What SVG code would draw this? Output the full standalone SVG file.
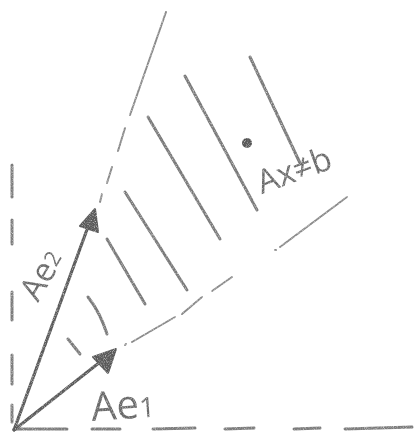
<svg xmlns="http://www.w3.org/2000/svg" width="414" height="434" viewBox="0 0 414 434">
<defs>
<filter id="pencil" x="-5%" y="-5%" width="110%" height="110%">
<feTurbulence type="fractalNoise" baseFrequency="1.1" numOctaves="2" seed="3" result="n"/>
<feColorMatrix in="n" type="matrix" values="0 0 0 0 0  0 0 0 0 0  0 0 0 0 0  0 0 0 -1.6 1.75" result="m"/>
<feComposite in="SourceGraphic" in2="m" operator="in"/>
</filter>
<style>
.ax{stroke:#7c7c7c;stroke-width:3;stroke-linecap:round;fill:none}
.bd{stroke:#8a8a8a;stroke-width:2;stroke-linecap:round;fill:none}
.h{stroke:#7a7a7a;stroke-width:3;stroke-linecap:round;fill:none}
.v{stroke:#5a5a5a;stroke-width:3.2;stroke-linecap:round;fill:none}
.hd{fill:#5a5a5a;stroke:#5a5a5a;stroke-width:2;stroke-linejoin:round}
.t{font-family:"Open Sans","Liberation Sans",sans-serif;font-weight:400;fill:#6a6a6a}
</style>
</defs>
<rect width="414" height="434" fill="#ffffff"/>
<g filter="url(#pencil)">
<g id="axes">
<line class="ax" x1="12" y1="165" x2="12" y2="197"/>
<line class="ax" x1="12" y1="220" x2="12" y2="244"/>
<line class="ax" x1="12" y1="292" x2="12" y2="320"/>
<line class="ax" x1="12" y1="355" x2="12" y2="384"/>
<line class="ax" x1="12" y1="405" x2="12" y2="422"/>
<line class="ax" x1="14" y1="429" x2="67" y2="429"/>
<line class="ax" x1="92" y1="429" x2="120" y2="429"/>
<line class="ax" x1="153" y1="429" x2="195" y2="428"/>
<line class="ax" x1="225" y1="429" x2="254" y2="428"/>
<line class="ax" x1="294" y1="429" x2="320" y2="428"/>
<line class="ax" x1="345" y1="429" x2="412" y2="427"/>
</g>
<g id="connectors">
<g id="boundary-upper">
<line class="bd" x1="166" y1="12" x2="130" y2="115"/>
<line class="bd" x1="125" y1="128" x2="118" y2="151"/>
<line class="bd" x1="112" y1="167" x2="107" y2="183"/>
<line class="bd" x1="102" y1="194" x2="100" y2="202"/>
</g>
<g id="boundary-lower">
<line class="bd" x1="125" y1="345" x2="126" y2="344"/>
<line class="bd" x1="132" y1="342" x2="175" y2="317"/>
<line class="bd" x1="182" y1="314" x2="202" y2="297"/>
<line class="bd" x1="212" y1="291" x2="232" y2="277"/>
<line class="bd" x1="275" y1="250" x2="276" y2="250"/>
<line class="bd" x1="280" y1="247" x2="347" y2="197"/>
</g>
<g id="vector-Ae2">
<line class="v" x1="14" y1="430" x2="89" y2="224"/>
<polygon class="hd" points="95,209 80,226 98,232"/>
</g>
<g id="vector-Ae1">
<line class="v" x1="14" y1="430" x2="100" y2="362"/>
<polygon class="hd" points="116,349 93,357 108,373"/>
</g>
</g>
<g id="hatching">
<path class="h" d="M250,57 L300,163"/>
<path class="h" d="M185,76 L257,210"/>
<path class="h" d="M148,117 L220,239"/>
<path class="h" d="M125,192 L187,290"/>
<path class="h" d="M107,239 L145,304"/>
<path class="h" d="M88,297 Q100,312 107,334"/>
<path class="h" d="M68,339 L80,354"/>
</g>
<g id="point">
<circle cx="247" cy="143" r="5" fill="#555"/>
</g>
<g id="labels">
<text class="t" font-size="33" text-anchor="middle" transform="translate(298,181) rotate(-20)">Ax≠b</text>
<text class="t" font-size="33" transform="translate(38,303) rotate(-60)">Ae<tspan font-size="22" dy="-2">2</tspan></text>
<text class="t" font-size="40" transform="translate(92,421) rotate(-4)">Ae<tspan font-size="28" dy="0">1</tspan></text>
</g>
</g>
</svg>
